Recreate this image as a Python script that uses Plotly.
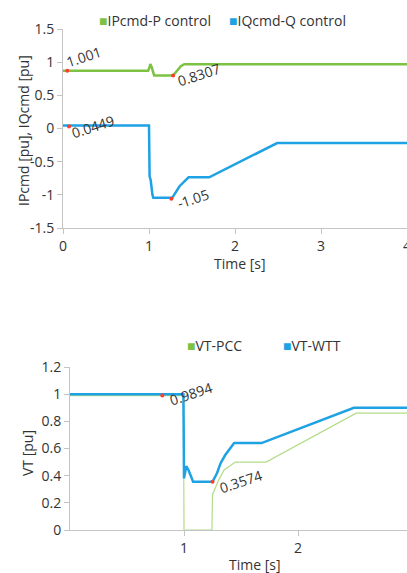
import plotly.graph_objects as go

# ---------------- data ----------------
# top chart
t_ip = [0, 0.99, 1.005, 1.015, 1.03, 1.04, 1.06, 1.28, 1.30, 1.33, 1.37, 1.41, 4.0]
ip_cmd = [0.87, 0.87, 0.92, 0.97, 0.93, 0.87, 0.80, 0.80, 0.83, 0.89, 0.94, 0.97, 0.97]

t_iq = [0, 1.0, 1.007, 1.02, 1.04, 1.05, 1.27, 1.355, 1.46, 1.70, 2.49, 4.0]
iq_cmd = [0.045, 0.045, -0.72, -0.78, -1.0, -1.045, -1.045, -0.87, -0.735, -0.735, -0.22, -0.22]

# bottom chart
t_wtt = [0, 0.995, 1.0, 1.005, 1.02, 1.04, 1.08, 1.25, 1.29, 1.32, 1.36, 1.44, 1.68, 2.49, 2.96]
vt_wtt = [1.0, 1.0, 0.38, 0.40, 0.47, 0.44, 0.355, 0.355, 0.42, 0.49, 0.55, 0.64, 0.64, 0.90, 0.90]

t_pcc = [0, 0.995, 1.0, 1.245, 1.25, 1.30, 1.35, 1.45, 1.72, 2.51, 2.96]
vt_pcc = [0.99, 0.99, 0.0, 0.0, 0.26, 0.36, 0.44, 0.50, 0.50, 0.86, 0.86]

# highlighted points (x, y, label)
top_pts_x = [0.05, 1.28, 0.07, 1.26]
top_pts_y = [0.87, 0.80, 0.03, -1.06]
top_pts_lbl = ["1.001", "0.8307", "0.0449", "-1.05"]
bot_pts_x = [0.81, 1.25]
bot_pts_y = [0.99, 0.355]
bot_pts_lbl = ["0.9894", "0.3574"]

top_ticks = [-1.5, -1, -0.5, 0, 0.5, 1, 1.5]
top_tick_text = ["-1.5", "-1", "-0.5", "0", "0.5", "1", "1.5"]
bot_ticks = [0, 0.2, 0.4, 0.6, 0.8, 1.0, 1.2]
bot_tick_text = ["0", "0.2", "0.4", "0.6", "0.8", "1", "1.2"]

GREEN = "#7dc242"
GREEN_LIGHT = "#b3dc8a"
BLUE = "#1fa2e3"
FONT = "Open Sans"
TXT = "#333333"
AX = "#c4c4c4"

W, H = 407, 573

fig = go.Figure()
fig.add_trace(go.Scatter(x=t_ip, y=ip_cmd, mode="lines", line=dict(color=GREEN, width=2.5),
                         name="IPcmd-P control", xaxis="x", yaxis="y", showlegend=False))
fig.add_trace(go.Scatter(x=t_iq, y=iq_cmd, mode="lines", line=dict(color=BLUE, width=2.5),
                         name="IQcmd-Q control", xaxis="x", yaxis="y", showlegend=False))
fig.add_trace(go.Scatter(x=t_pcc, y=vt_pcc, mode="lines", line=dict(color=GREEN_LIGHT, width=1.2),
                         name="VT-PCC", xaxis="x2", yaxis="y2", showlegend=False))
fig.add_trace(go.Scatter(x=t_wtt, y=vt_wtt, mode="lines", line=dict(color=BLUE, width=2.5),
                         name="VT-WTT", xaxis="x2", yaxis="y2", showlegend=False))
fig.add_trace(go.Scatter(x=top_pts_x, y=top_pts_y, mode="markers",
                         marker=dict(color="#ff3b30", size=4), xaxis="x", yaxis="y", showlegend=False))
fig.add_trace(go.Scatter(x=bot_pts_x, y=bot_pts_y, mode="markers",
                         marker=dict(color="#ff3b30", size=4), xaxis="x2", yaxis="y2", showlegend=False))

def ypx(p):
    return 1 - p / H

ann = []
top_shift = [(17, 14), (26, 1), (24, 0), (22, 0)]
for (x, y, l), (dx, dy) in zip(zip(top_pts_x, top_pts_y, top_pts_lbl), top_shift):
    ann.append(dict(x=x, y=y, xref="x", yref="y", text=l, showarrow=False, textangle=-18,
                    xanchor="center", yanchor="middle",
                    xshift=dx, yshift=dy, font=dict(family=FONT, size=14, color=TXT)))
bot_shift = [(29, 2), (28, 0)]
for (x, y, l), (dx, dy) in zip(zip(bot_pts_x, bot_pts_y, bot_pts_lbl), bot_shift):
    ann.append(dict(x=x, y=y, xref="x2", yref="y2", text=l, showarrow=False, textangle=-18,
                    xanchor="center", yanchor="middle",
                    xshift=dx, yshift=dy, font=dict(family=FONT, size=14, color=TXT)))

# legends
def leg(xpx, ypix, color, name):
    ann.append(dict(x=xpx / W, y=ypx(ypix), xref="paper", yref="paper", xanchor="left", yanchor="middle",
                    showarrow=False, text=f'<span style="color:{color}">■</span>{name}',
                    font=dict(family=FONT, size=14, color=TXT)))

leg(97, 20, GREEN, "IPcmd-P control")
leg(227, 20, BLUE, "IQcmd-Q control")
leg(185, 345, GREEN, "VT-PCC")
leg(281, 345, BLUE, "VT-WTT")

# axis titles
def title(xp, yp, text, angle=0):
    ann.append(dict(x=xp / W, y=ypx(yp), xref="paper", yref="paper", showarrow=False, text=text,
                    xanchor="center", yanchor="middle", textangle=angle,
                    font=dict(family=FONT, size=14, color=TXT)))

title(240, 263, "Time [s]")
title(255, 564, "Time [s]")
title(23, 131, "IPcmd [pu], IQcmd [pu]", -90)
title(27, 453, "VT [pu]", -90)

axis_common = dict(showgrid=False, zeroline=False, showline=True, linecolor=AX, linewidth=1,
                   ticks="outside", ticklen=5, tickcolor=AX, automargin=False,
                   tickfont=dict(family=FONT, size=14, color=TXT))

fig.update_layout(
    width=W, height=H,
    autosize=False,
    margin=dict(l=0, r=0, t=0, b=0, pad=0),
    paper_bgcolor="white", plot_bgcolor="white",
    showlegend=False,
    xaxis=dict(domain=[63 / W, 1], range=[0, 4], tickvals=[0, 1, 2, 3, 4], anchor="y",
               ticklabeloverflow="allow", **axis_common),
    yaxis=dict(domain=[ypx(228), ypx(29)], range=[-1.5, 1.5], tickvals=top_ticks, ticktext=top_tick_text,
               anchor="x", **axis_common),
    xaxis2=dict(domain=[70 / W, 1], range=[0, 2.956], tickvals=[1, 2], anchor="y2", **axis_common),
    yaxis2=dict(domain=[ypx(530), ypx(367)], range=[0, 1.2], tickvals=bot_ticks, ticktext=bot_tick_text,
                anchor="x2", **axis_common),
    annotations=ann,
)

fig.write_html("out.html", config={"responsive": False, "displayModeBar": False},
               post_script="document.body.style.margin='0';document.body.style.overflow='hidden';")
